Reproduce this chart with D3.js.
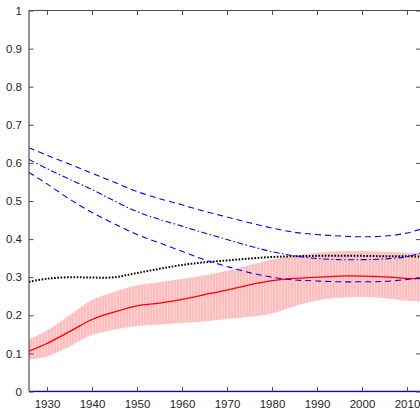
<!DOCTYPE html>
<html>
<head>
<meta charset="utf-8">
<script src="https://cdn.jsdelivr.net/npm/d3@7"></script>
<style>
  html, body { margin: 0; padding: 0; background: #fff; }
  svg { display: block; }
  text { font-family: "Liberation Sans", Arial, sans-serif; }
</style>
</head>
<body>
<svg id="chart" width="420" height="411"></svg>
<script>
// Years sampled along the series
const years = [1926, 1930, 1935, 1940, 1945, 1950, 1955, 1960, 1965, 1970, 1975, 1980, 1985, 1990, 1995, 2000, 2005, 2010, 2013];

// Central estimate (red) and its band
const meanLine  = [0.106, 0.126, 0.157, 0.189, 0.209, 0.225, 0.232, 0.242, 0.254, 0.266, 0.280, 0.291, 0.297, 0.300, 0.303, 0.303, 0.301, 0.297, 0.296];
const bandUpper = [0.137, 0.160, 0.200, 0.240, 0.262, 0.279, 0.287, 0.295, 0.305, 0.317, 0.332, 0.346, 0.357, 0.364, 0.368, 0.369, 0.367, 0.364, 0.362];
const bandLower = [0.084, 0.092, 0.118, 0.148, 0.163, 0.172, 0.176, 0.180, 0.184, 0.190, 0.196, 0.205, 0.224, 0.239, 0.246, 0.248, 0.245, 0.238, 0.236];

// Black dotted series
const dottedLine = [0.288, 0.296, 0.300, 0.299, 0.300, 0.311, 0.322, 0.332, 0.339, 0.344, 0.349, 0.353, 0.355, 0.356, 0.356, 0.356, 0.355, 0.355, 0.354];

// Blue series: upper dashed, middle dash-dot, lower dashed
const blueUpper = [0.640, 0.620, 0.597, 0.573, 0.549, 0.525, 0.506, 0.490, 0.473, 0.458, 0.443, 0.429, 0.418, 0.412, 0.408, 0.406, 0.408, 0.416, 0.426];
const blueMid   = [0.609, 0.585, 0.557, 0.530, 0.500, 0.472, 0.452, 0.434, 0.416, 0.399, 0.382, 0.367, 0.356, 0.349, 0.346, 0.346, 0.348, 0.354, 0.364];
const blueLower = [0.575, 0.545, 0.505, 0.470, 0.440, 0.412, 0.390, 0.368, 0.346, 0.328, 0.312, 0.300, 0.293, 0.290, 0.288, 0.288, 0.289, 0.294, 0.298];

// Zero reference line
const zeroLine = years.map(() => 0);

const xTicks = [1930, 1940, 1950, 1960, 1970, 1980, 1990, 2000, 2010];
const yTicks = [0, 0.1, 0.2, 0.3, 0.4, 0.5, 0.6, 0.7, 0.8, 0.9, 1];

const svg = d3.select("#chart");
const plotLeft = 29, plotRight = 420.5, plotTop = 10.5, plotBottom = 391.5;

const x = d3.scaleLinear().domain([1926, 2013]).range([plotLeft, plotRight]);
const y = d3.scaleLinear().domain([0, 1]).range([plotBottom, plotTop]);

const defs = svg.append("defs");
defs.append("clipPath").attr("id", "plotClip")
  .append("rect").attr("x", plotLeft).attr("y", plotTop - 1)
  .attr("width", plotRight - plotLeft).attr("height", plotBottom - plotTop + 2);

// Vertical striped fill for the band
const pat = defs.append("pattern").attr("id", "stripes")
  .attr("patternUnits", "userSpaceOnUse").attr("width", 3).attr("height", 10);
pat.append("rect").attr("width", 3).attr("height", 10).attr("fill", "#ffbdbd");
pat.append("rect").attr("x", 2).attr("width", 1).attr("height", 10).attr("fill", "#ffd3d3");

const plot = svg.append("g").attr("clip-path", "url(#plotClip)");

const curve = d3.curveCatmullRom.alpha(0.5);
const lineOf = vals => d3.line().x((d, i) => x(years[i])).y(d => y(d)).curve(curve)(vals);

const band = d3.area()
  .x((d, i) => x(years[i]))
  .y0((d, i) => y(bandLower[i]))
  .y1((d, i) => y(bandUpper[i]))
  .curve(curve);

plot.append("path").attr("d", band(years)).attr("fill", "url(#stripes)");

plot.append("path").attr("d", lineOf(meanLine))
  .attr("fill", "none").attr("stroke", "#ff0000").attr("stroke-width", 1.3);

plot.append("path").attr("d", lineOf(dottedLine))
  .attr("fill", "none").attr("stroke", "#000").attr("stroke-width", 2)
  .attr("stroke-dasharray", "1.6,1.6");

plot.append("path").attr("d", lineOf(blueUpper))
  .attr("fill", "none").attr("stroke", "#0000ff").attr("stroke-width", 1.1)
  .attr("stroke-dasharray", "6,4");
plot.append("path").attr("d", lineOf(blueMid))
  .attr("fill", "none").attr("stroke", "#0000ff").attr("stroke-width", 1.1)
  .attr("stroke-dasharray", "6,2.5,1.5,2.5");
plot.append("path").attr("d", lineOf(blueLower))
  .attr("fill", "none").attr("stroke", "#0000ff").attr("stroke-width", 1.1)
  .attr("stroke-dasharray", "6,4");

plot.append("path").attr("d", lineOf(zeroLine))
  .attr("fill", "none").attr("stroke", "#0000ff").attr("stroke-width", 1.5);

// Box axes with inward ticks
const axisColor = "#4d4d4d";
const tickLen = 4.5;
const styleAxis = g => {
  g.select(".domain").remove();
  g.selectAll(".tick line").attr("stroke", axisColor);
  g.selectAll("text").attr("fill", "#262626").attr("font-size", 11.5);
};

svg.append("g").attr("transform", `translate(0,${plotBottom})`)
  .call(d3.axisBottom(x).tickValues(xTicks).tickFormat(d3.format("d"))
    .tickSizeInner(-tickLen).tickSizeOuter(0).tickPadding(8))
  .call(styleAxis);
svg.append("g").attr("transform", `translate(0,${plotTop})`)
  .call(d3.axisTop(x).tickValues(xTicks).tickFormat("")
    .tickSizeInner(-tickLen).tickSizeOuter(0))
  .call(styleAxis);
svg.append("g").attr("transform", `translate(${plotLeft},0)`)
  .call(d3.axisLeft(y).tickValues(yTicks).tickFormat(d3.format("~g"))
    .tickSizeInner(-tickLen).tickSizeOuter(0).tickPadding(7))
  .call(styleAxis);
svg.append("g").attr("transform", `translate(${plotRight},0)`)
  .call(d3.axisRight(y).tickValues(yTicks).tickFormat("")
    .tickSizeInner(-tickLen).tickSizeOuter(0))
  .call(styleAxis);

// Axis box lines
svg.append("line").attr("x1", plotLeft).attr("x2", plotLeft).attr("y1", plotTop).attr("y2", plotBottom)
  .attr("stroke", axisColor).attr("stroke-width", 1.2);
svg.append("line").attr("x1", plotLeft).attr("x2", plotRight).attr("y1", plotTop).attr("y2", plotTop)
  .attr("stroke", axisColor).attr("stroke-width", 1.2);
</script>
</body>
</html>
